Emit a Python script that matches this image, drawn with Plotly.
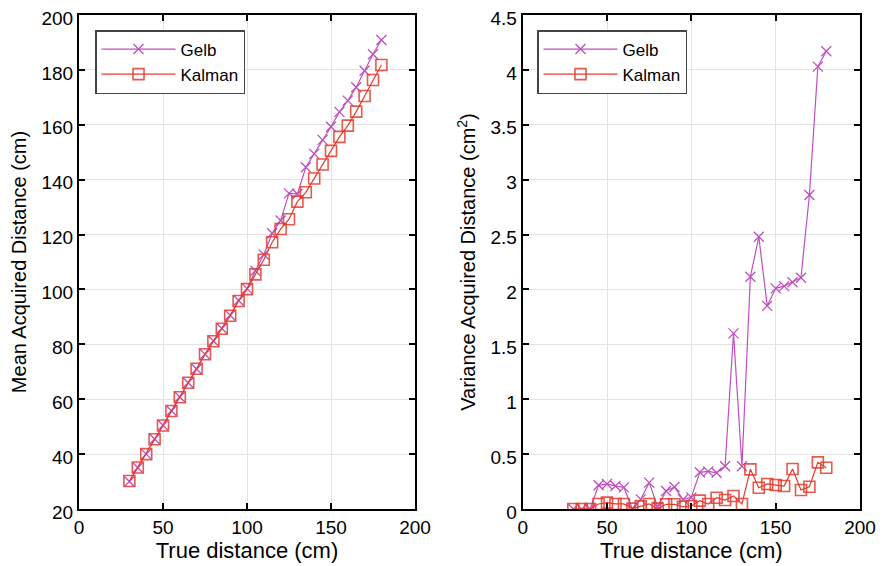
import plotly.graph_objects as go

true_dist = [30, 35, 40, 45, 50, 55, 60, 65, 70, 75, 80, 85, 90, 95, 100, 105,
             110, 115, 120, 125, 130, 135, 140, 145, 150, 155, 160, 165, 170, 175, 180]

gelb_mean = [30, 35, 40, 45.5, 50.5, 55.8, 60.8, 66, 71, 76.4, 81.2, 85.8, 90.6, 96, 100.3, 106.8,
             112.7, 120.5, 125.1, 135, 134.8, 144.5, 149.4, 154.5, 159.3, 164.7, 168.8, 173.7, 179.7, 185.7, 190.9]
kalman_mean = [30.2, 35.1, 40, 45.4, 50.4, 55.7, 60.7, 66, 71.1, 76.4, 81.1, 85.7, 90.4, 95.8, 100.1, 105.5,
               110.8, 117.2, 122, 125.6, 132, 135.4, 140.4, 145.5, 150.5, 155.6, 159.7, 164.8, 170.5, 176.3, 181.8]

gelb_var = [0, 0, 0, 0.216, 0.228, 0.209, 0.197, 0.003, 0.088, 0.24, 0.02, 0.164, 0.2, 0.088, 0.106, 0.334,
            0.343, 0.33, 0.39, 1.6, 0.39, 2.116, 2.48, 1.85, 2.01, 2.03, 2.065, 2.107, 2.86, 4.03, 4.17]
kalman_var = [0, 0, 0, 0.046, 0.058, 0.046, 0.046, 0.003, 0.024, 0.046, 0.003, 0.043, 0.043, 0.02, 0.027, 0.076,
              0.046, 0.103, 0.082, 0.118, 0.046, 0.361, 0.194, 0.228, 0.218, 0.209, 0.364, 0.173, 0.203, 0.425, 0.376]

GELB = "#BF4FBF"
KALMAN = "#E33B2E"
FONT = "Liberation Sans, Arial, sans-serif"

fig = go.Figure()

def add_pair(xa, ya, gelb, kalman, legend):
    fig.add_trace(go.Scatter(
        x=true_dist, y=gelb, name="Gelb", mode="lines+markers",
        line=dict(color=GELB, width=1.2),
        marker=dict(symbol="x-thin", size=10, line=dict(color=GELB, width=1.3)),
        xaxis=xa, yaxis=ya, legend=legend))
    fig.add_trace(go.Scatter(
        x=true_dist, y=kalman, name="Kalman", mode="lines+markers",
        line=dict(color=KALMAN, width=1.2),
        marker=dict(symbol="square-open", size=11, color="rgba(227,59,46,0.85)",
                    line=dict(width=1.6)),
        xaxis=xa, yaxis=ya, legend=legend))

add_pair("x", "y", gelb_mean, kalman_mean, "legend")
add_pair("x2", "y2", gelb_var, kalman_var, "legend2")

# page body has an 8px margin; figure is sized/positioned to compensate
OFF = 8
W, H = 884 - OFF, 566 - OFF
ytop = 1 - (15 - OFF) / H
ybot = 1 - (509 - OFF) / H

axis_common = dict(
    showline=True, linecolor="black", linewidth=2, mirror="ticks",
    ticks="inside", ticklen=6, tickwidth=2, tickcolor="black",
    showgrid=True, gridcolor="#E3E3E3", gridwidth=1,
    zeroline=False, automargin=False, ticklabeloverflow="allow",
    tickfont=dict(family=FONT, size=19, color="black"),
)
yaxis_extra = dict(ticklabelshift=3)

xtitle = dict(text="True distance (cm)", font=dict(size=22), standoff=6)

legend_common = dict(
    xanchor="left", yanchor="top",
    bgcolor="white", bordercolor="#444444", borderwidth=1.5,
    font=dict(family=FONT, size=17, color="black"),
    tracegroupgap=0, itemwidth=74,
)

fig.update_layout(
    width=W, height=H,
    margin=dict(l=0, r=0, t=0, b=0),
    paper_bgcolor="white", plot_bgcolor="white",
    font=dict(family=FONT, color="black"),
    xaxis=dict(domain=[(79 - OFF) / W, (415 - OFF) / W], range=[0, 200], dtick=50,
               title=xtitle, anchor="y", **axis_common),
    yaxis=dict(domain=[ybot, ytop], range=[20, 200], dtick=20,
               title=dict(text="Mean Acquired Distance (cm)", font=dict(size=20), standoff=13),
               anchor="x", **axis_common, **yaxis_extra),
    xaxis2=dict(domain=[(522.7 - OFF) / W, (860 - OFF) / W], range=[0, 200], dtick=50,
                title=xtitle, anchor="y2", **axis_common),
    yaxis2=dict(domain=[ybot, ytop], range=[0, 4.5], dtick=0.5,
                title=dict(text="Variance Acquired Distance (cm<sup>2</sup>)", font=dict(size=20), standoff=9),
                anchor="x2", **axis_common, **yaxis_extra),
    legend=dict(x=(95 - OFF) / W, y=1 - (30 - OFF) / H, **legend_common),
    legend2=dict(x=(537 - OFF) / W, y=1 - (30 - OFF) / H, **legend_common),
)

fig.write_html("out.html")
